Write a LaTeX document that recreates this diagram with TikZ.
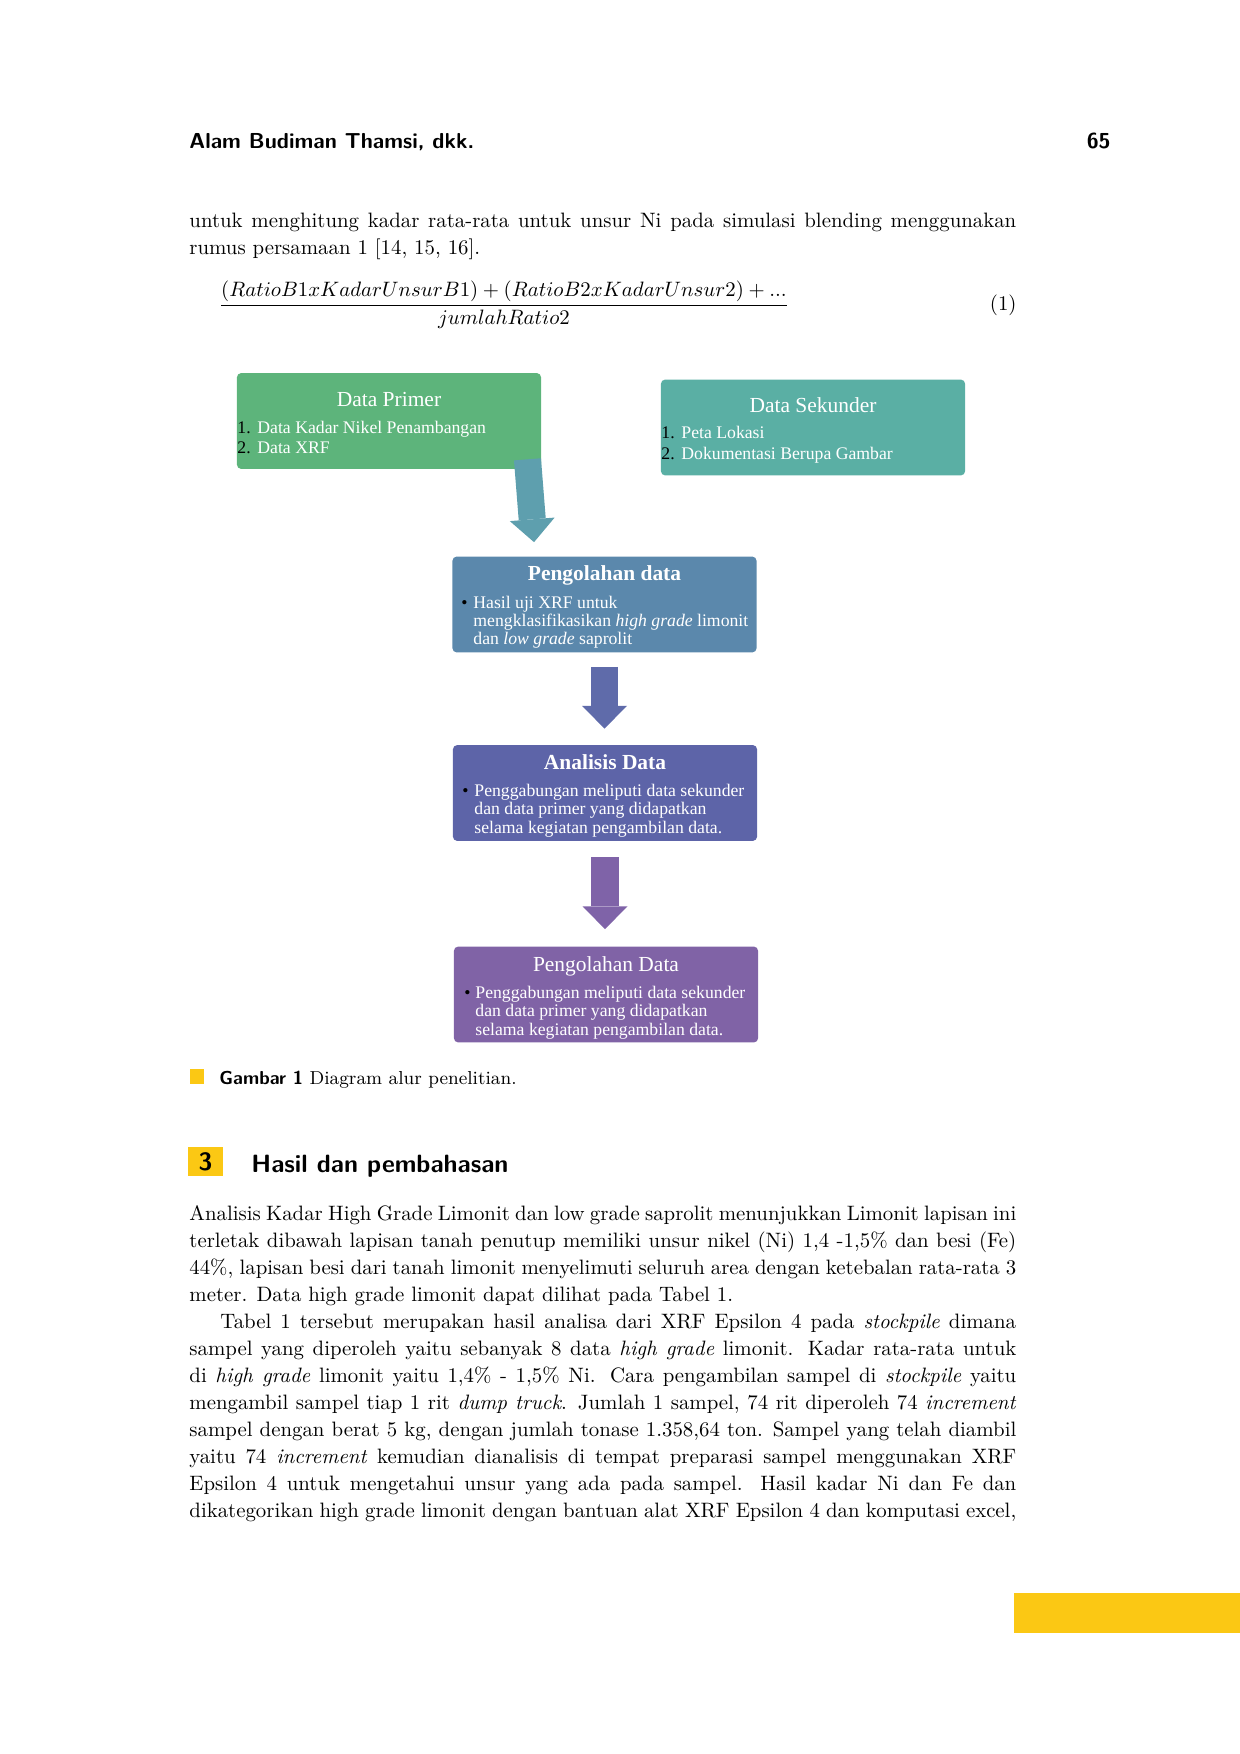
\documentclass[tikz,border=0pt]{standalone}
\usepackage{fontspec}
\usetikzlibrary{arrows.meta,calc}
\newfontfamily\boxfont{Liberation Serif}

\definecolor{primgreen}{HTML}{5DB47B}
\definecolor{sekteal}{HTML}{5AAFA4}
\definecolor{arrowteal}{HTML}{5E9FAE}
\definecolor{pengblue}{HTML}{5B88AC}
\definecolor{arrowblue}{HTML}{5F6BAA}
\definecolor{analblue}{HTML}{5D64A8}
\definecolor{arrowpurp}{HTML}{7F63A8}
\definecolor{hasilpurp}{HTML}{8063A6}
\definecolor{accent}{HTML}{FBC814}

\tikzset{
  flowbox/.style={rectangle, rounded corners=2pt, inner sep=0pt,
    minimum width=146pt, minimum height=46pt},
  boxtitle/.style={text=white, inner sep=0pt, text height=7pt, text depth=2pt,
    font=\boxfont\fontsize{10.3}{12}\selectfont},
  boxitem/.style={text=white, anchor=base west, inner sep=0pt,
    font=\boxfont\fontsize{8.5}{10}\selectfont},
  itemmark/.style={text=black, anchor=base west, inner sep=0pt,
    font=\boxfont\fontsize{8.5}{10}\selectfont},
  blockarrow/.style={line width=13pt,
    -{Triangle[width=21.6pt,length=11pt,line width=0pt]}},
  bodyline/.style={anchor=base west, inner sep=0pt, font=\fontsize{10}{12}\selectfont},
  headline/.style={anchor=base west, inner sep=0pt, font=\sffamily\bfseries\fontsize{10.4}{12}\selectfont},
}
\newcommand{\jline}[1]{\makebox[397pt][s]{#1}}

\begin{document}
\begin{tikzpicture}[x=0.4801pt, y=-0.4801pt]
  \useasboundingbox (0,0) rectangle (1240,1754);

  % page head
  \node[headline] (head) at (189,149) {Alam Budiman Thamsi, dkk.};
  \node[headline, anchor=base east] (pgno) at (1111,149) {65};

  \node[bodyline] (t1) at (189,228) {\jline{untuk menghitung kadar rata-rata untuk unsur Ni pada simulasi blending menggunakan}};
  \node[bodyline] (t2) at (189,255) {rumus persamaan 1 [14, 15, 16].};

  \node[inner sep=0pt] (eq) at (504,305)
    {$\displaystyle\frac{(RatioB1xKadarUnsurB1)+(RatioB2xKadarUnsur2)+...}{jumlahRatio2}$};
  \node[inner sep=0pt, anchor=east] (eqno) at (1017,305) {(1)};

  % diagram
  \node[flowbox, fill=primgreen] (prim) at (389,421) {};
  \node[flowbox, fill=sekteal] (sek) at (813,427.5) {};
  \node[flowbox, fill=pengblue] (peng) at (604.5,604.5) {};
  \node[flowbox, fill=analblue] (anal) at (605,793) {};
  \node[flowbox, fill=hasilpurp] (hasil) at (606,994.5) {};

  \node[boxtitle] (primT) at (389,401) {Data Primer};
  \node[itemmark] (primN1) at (237,434) {1.};
  \node[boxitem] (primI1) at (257,434) {Data Kadar Nikel Penambangan};
  \node[itemmark] (primN2) at (237,454) {2.};
  \node[boxitem] (primI2) at (257,454) {Data XRF};

  \node[boxtitle] (sekT) at (813,407) {Data Sekunder};
  \node[itemmark] (sekN1) at (661,439) {1.};
  \node[boxitem] (sekI1) at (681,439) {Peta Lokasi};
  \node[itemmark] (sekN2) at (661,460) {2.};
  \node[boxitem] (sekI2) at (681,460) {Dokumentasi Berupa Gambar};

  \node[boxtitle, font=\boxfont\bfseries\fontsize{10.3}{12}\selectfont] (pengT) at (604.5,575) {Pengolahan data};
  \node[itemmark] (pengB) at (461,608) {•};
  \node[boxitem] (pengI1) at (473,608) {Hasil uji XRF untuk};
  \node[boxitem] (pengI2) at (473,626) {mengklasifikasikan \textit{high grade} limonit};
  \node[boxitem] (pengI3) at (473,644) {dan \textit{low grade} saprolit};

  \node[boxtitle, font=\boxfont\bfseries\fontsize{10.3}{12}\selectfont] (analT) at (605,764) {Analisis Data};
  \node[itemmark] (analB) at (462,796) {•};
  \node[boxitem] (analI1) at (474,796) {Penggabungan meliputi data sekunder};
  \node[boxitem] (analI2) at (474,814) {dan data primer yang didapatkan};
  \node[boxitem] (analI3) at (474,833) {selama kegiatan pengambilan data.};

  \node[boxtitle] (hasilT) at (606,966) {Pengolahan Data};
  \node[itemmark] (hasilB) at (464,998) {•};
  \node[boxitem] (hasilI1) at (475,998) {Penggabungan meliputi data sekunder};
  \node[boxitem] (hasilI2) at (475,1016) {dan data primer yang didapatkan};
  \node[boxitem] (hasilI3) at (475,1035) {selama kegiatan pengambilan data.};

  \coordinate (a2s) at ($(peng.south)+(0,14)$);
  \coordinate (a3s) at ($(anal.south)+(0,16)$);
  \draw[blockarrow, arrowteal] ($(prim.south east)+(-14,-10)$) -- ($(peng.north west)+(82,-14)$);
  \draw[blockarrow, arrowblue] (a2s) -- (a2s |- {$(anal.north)+(0,-16)$});
  \draw[blockarrow, arrowpurp] (a3s) -- (a3s |- {$(hasil.north)+(0,-17)$});

  % caption
  \fill[accent] (190,1069) rectangle (204,1084);
  \node[bodyline, font=\fontsize{9}{11}\selectfont] (cap) at (219,1084)
    {{\sffamily\bfseries Gambar 1} Diagram alur penelitian.};

  % section
  \node[fill=accent, inner sep=0pt, minimum width=16.8pt, minimum height=13.9pt,
    font=\sffamily\bfseries\fontsize{12}{14}\selectfont] (secno) at (205.5,1161.5) {3};
  \node[headline, font=\sffamily\bfseries\fontsize{12}{14}\selectfont] (sec) at (251,1172) {Hasil dan pembahasan};

  \node[bodyline] (p1) at (189,1220) {\jline{Analisis Kadar High Grade Limonit dan low grade saprolit menunjukkan Limonit lapisan ini}};
  \node[bodyline] (p2) at (189,1247) {\jline{terletak dibawah lapisan tanah penutup memiliki unsur nikel (Ni) 1,4 -1,5\% dan besi (Fe)}};
  \node[bodyline] (p3) at (189,1274) {\jline{44\%, lapisan besi dari tanah limonit menyelimuti seluruh area dengan ketebalan rata-rata 3}};
  \node[bodyline] (p4) at (189,1301) {meter. Data high grade limonit dapat dilihat pada Tabel 1.};
  \node[bodyline] (p5) at (220,1328) {\makebox[382pt][s]{Tabel 1 tersebut merupakan hasil analisa dari XRF Epsilon 4 pada \emph{stockpile} dimana}};
  \node[bodyline] (p6) at (189,1355) {\jline{sampel yang diperoleh yaitu sebanyak 8 data \emph{high grade} limonit. Kadar rata-rata untuk}};
  \node[bodyline] (p7) at (189,1382) {\jline{di \emph{high grade} limonit yaitu 1,4\% - 1,5\% Ni. Cara pengambilan sampel di \emph{stockpile} yaitu}};
  \node[bodyline] (p8) at (189,1409) {\jline{mengambil sampel tiap 1 rit \emph{dump truck}. Jumlah 1 sampel, 74 rit diperoleh 74 \emph{increment}}};
  \node[bodyline] (p9) at (189,1436) {\jline{sampel dengan berat 5 kg, dengan jumlah tonase 1.358,64 ton. Sampel yang telah diambil}};
  \node[bodyline] (p10) at (189,1463) {\jline{yaitu 74 \emph{increment} kemudian dianalisis di tempat preparasi sampel menggunakan XRF}};
  \node[bodyline] (p11) at (189,1490) {\jline{Epsilon 4 untuk mengetahui unsur yang ada pada sampel. Hasil kadar Ni dan Fe dan}};
  \node[bodyline] (p12) at (189,1517) {\jline{dikategorikan high grade limonit dengan bantuan alat XRF Epsilon 4 dan komputasi excel,}};

  \fill[accent] (1014,1593) rectangle (1240,1633);
\end{tikzpicture}
\end{document}
